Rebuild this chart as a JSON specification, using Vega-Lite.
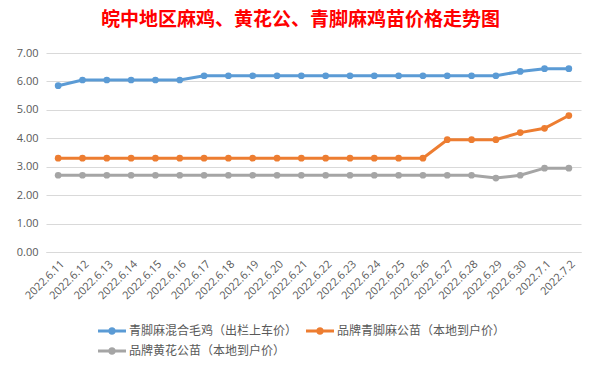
{
  "$schema": "https://vega.github.io/schema/vega-lite/v6.json",
  "width": 535,
  "height": 199,
  "autosize": "none",
  "padding": {"left": 46, "top": 53, "right": 18, "bottom": 117},
  "background": "white",
  "title": {
    "text": "皖中地区麻鸡、黄花公、青脚麻鸡苗价格走势图",
    "color": "#FF0000",
    "font": "Noto Sans CJK SC",
    "fontSize": 19,
    "fontWeight": "bold",
    "anchor": "middle",
    "dx": -13,
    "offset": 17
  },
  "config": {
    "view": {"stroke": null},
    "axis": {"labelFont": "Open Sans", "labelColor": "#595959", "labelFontSize": 11}
  },
  "data": {
    "values": [
      {"date": "2022.6.11", "series": "青脚麻混合毛鸡（出栏上车价）", "price": 5.85},
      {"date": "2022.6.12", "series": "青脚麻混合毛鸡（出栏上车价）", "price": 6.05},
      {"date": "2022.6.13", "series": "青脚麻混合毛鸡（出栏上车价）", "price": 6.05},
      {"date": "2022.6.14", "series": "青脚麻混合毛鸡（出栏上车价）", "price": 6.05},
      {"date": "2022.6.15", "series": "青脚麻混合毛鸡（出栏上车价）", "price": 6.05},
      {"date": "2022.6.16", "series": "青脚麻混合毛鸡（出栏上车价）", "price": 6.05},
      {"date": "2022.6.17", "series": "青脚麻混合毛鸡（出栏上车价）", "price": 6.2},
      {"date": "2022.6.18", "series": "青脚麻混合毛鸡（出栏上车价）", "price": 6.2},
      {"date": "2022.6.19", "series": "青脚麻混合毛鸡（出栏上车价）", "price": 6.2},
      {"date": "2022.6.20", "series": "青脚麻混合毛鸡（出栏上车价）", "price": 6.2},
      {"date": "2022.6.21", "series": "青脚麻混合毛鸡（出栏上车价）", "price": 6.2},
      {"date": "2022.6.22", "series": "青脚麻混合毛鸡（出栏上车价）", "price": 6.2},
      {"date": "2022.6.23", "series": "青脚麻混合毛鸡（出栏上车价）", "price": 6.2},
      {"date": "2022.6.24", "series": "青脚麻混合毛鸡（出栏上车价）", "price": 6.2},
      {"date": "2022.6.25", "series": "青脚麻混合毛鸡（出栏上车价）", "price": 6.2},
      {"date": "2022.6.26", "series": "青脚麻混合毛鸡（出栏上车价）", "price": 6.2},
      {"date": "2022.6.27", "series": "青脚麻混合毛鸡（出栏上车价）", "price": 6.2},
      {"date": "2022.6.28", "series": "青脚麻混合毛鸡（出栏上车价）", "price": 6.2},
      {"date": "2022.6.29", "series": "青脚麻混合毛鸡（出栏上车价）", "price": 6.2},
      {"date": "2022.6.30", "series": "青脚麻混合毛鸡（出栏上车价）", "price": 6.35},
      {"date": "2022.7.1", "series": "青脚麻混合毛鸡（出栏上车价）", "price": 6.45},
      {"date": "2022.7.2", "series": "青脚麻混合毛鸡（出栏上车价）", "price": 6.45},
      {"date": "2022.6.11", "series": "品牌青脚麻公苗（本地到户价）", "price": 3.3},
      {"date": "2022.6.12", "series": "品牌青脚麻公苗（本地到户价）", "price": 3.3},
      {"date": "2022.6.13", "series": "品牌青脚麻公苗（本地到户价）", "price": 3.3},
      {"date": "2022.6.14", "series": "品牌青脚麻公苗（本地到户价）", "price": 3.3},
      {"date": "2022.6.15", "series": "品牌青脚麻公苗（本地到户价）", "price": 3.3},
      {"date": "2022.6.16", "series": "品牌青脚麻公苗（本地到户价）", "price": 3.3},
      {"date": "2022.6.17", "series": "品牌青脚麻公苗（本地到户价）", "price": 3.3},
      {"date": "2022.6.18", "series": "品牌青脚麻公苗（本地到户价）", "price": 3.3},
      {"date": "2022.6.19", "series": "品牌青脚麻公苗（本地到户价）", "price": 3.3},
      {"date": "2022.6.20", "series": "品牌青脚麻公苗（本地到户价）", "price": 3.3},
      {"date": "2022.6.21", "series": "品牌青脚麻公苗（本地到户价）", "price": 3.3},
      {"date": "2022.6.22", "series": "品牌青脚麻公苗（本地到户价）", "price": 3.3},
      {"date": "2022.6.23", "series": "品牌青脚麻公苗（本地到户价）", "price": 3.3},
      {"date": "2022.6.24", "series": "品牌青脚麻公苗（本地到户价）", "price": 3.3},
      {"date": "2022.6.25", "series": "品牌青脚麻公苗（本地到户价）", "price": 3.3},
      {"date": "2022.6.26", "series": "品牌青脚麻公苗（本地到户价）", "price": 3.3},
      {"date": "2022.6.27", "series": "品牌青脚麻公苗（本地到户价）", "price": 3.95},
      {"date": "2022.6.28", "series": "品牌青脚麻公苗（本地到户价）", "price": 3.95},
      {"date": "2022.6.29", "series": "品牌青脚麻公苗（本地到户价）", "price": 3.95},
      {"date": "2022.6.30", "series": "品牌青脚麻公苗（本地到户价）", "price": 4.2},
      {"date": "2022.7.1", "series": "品牌青脚麻公苗（本地到户价）", "price": 4.35},
      {"date": "2022.7.2", "series": "品牌青脚麻公苗（本地到户价）", "price": 4.8},
      {"date": "2022.6.11", "series": "品牌黄花公苗（本地到户价）", "price": 2.7},
      {"date": "2022.6.12", "series": "品牌黄花公苗（本地到户价）", "price": 2.7},
      {"date": "2022.6.13", "series": "品牌黄花公苗（本地到户价）", "price": 2.7},
      {"date": "2022.6.14", "series": "品牌黄花公苗（本地到户价）", "price": 2.7},
      {"date": "2022.6.15", "series": "品牌黄花公苗（本地到户价）", "price": 2.7},
      {"date": "2022.6.16", "series": "品牌黄花公苗（本地到户价）", "price": 2.7},
      {"date": "2022.6.17", "series": "品牌黄花公苗（本地到户价）", "price": 2.7},
      {"date": "2022.6.18", "series": "品牌黄花公苗（本地到户价）", "price": 2.7},
      {"date": "2022.6.19", "series": "品牌黄花公苗（本地到户价）", "price": 2.7},
      {"date": "2022.6.20", "series": "品牌黄花公苗（本地到户价）", "price": 2.7},
      {"date": "2022.6.21", "series": "品牌黄花公苗（本地到户价）", "price": 2.7},
      {"date": "2022.6.22", "series": "品牌黄花公苗（本地到户价）", "price": 2.7},
      {"date": "2022.6.23", "series": "品牌黄花公苗（本地到户价）", "price": 2.7},
      {"date": "2022.6.24", "series": "品牌黄花公苗（本地到户价）", "price": 2.7},
      {"date": "2022.6.25", "series": "品牌黄花公苗（本地到户价）", "price": 2.7},
      {"date": "2022.6.26", "series": "品牌黄花公苗（本地到户价）", "price": 2.7},
      {"date": "2022.6.27", "series": "品牌黄花公苗（本地到户价）", "price": 2.7},
      {"date": "2022.6.28", "series": "品牌黄花公苗（本地到户价）", "price": 2.7},
      {"date": "2022.6.29", "series": "品牌黄花公苗（本地到户价）", "price": 2.6},
      {"date": "2022.6.30", "series": "品牌黄花公苗（本地到户价）", "price": 2.7},
      {"date": "2022.7.1", "series": "品牌黄花公苗（本地到户价）", "price": 2.95},
      {"date": "2022.7.2", "series": "品牌黄花公苗（本地到户价）", "price": 2.95}
    ]
  },
  "encoding": {
    "x": {
      "field": "date",
      "type": "ordinal",
      "sort": null,
      "scale": {"type": "point", "padding": 0.5},
      "axis": {
        "title": null,
        "labelAngle": -45,
        "labelAlign": "right",
        "labelBaseline": "top",
        "labelPadding": 6,
        "ticks": false,
        "domainColor": "#D9D9D9",
        "domainWidth": 1,
        "grid": false
      }
    },
    "y": {
      "field": "price",
      "type": "quantitative",
      "scale": {"domain": [0, 7], "nice": false},
      "axis": {
        "title": null,
        "values": [0, 1, 2, 3, 4, 5, 6, 7],
        "format": ".2f",
        "domain": false,
        "ticks": false,
        "gridColor": "#D9D9D9",
        "gridWidth": 1,
        "labelPadding": 8
      }
    },
    "color": {
      "field": "series",
      "type": "nominal",
      "sort": null,
      "scale": {
        "domain": ["青脚麻混合毛鸡（出栏上车价）", "品牌青脚麻公苗（本地到户价）", "品牌黄花公苗（本地到户价）"],
        "range": ["#5B9BD5", "#ED7D31", "#A5A5A5"]
      },
      "legend": {
        "title": null,
        "orient": "none",
        "legendX": 52,
        "legendY": 264,
        "direction": "horizontal",
        "columns": 2,
        "columnPadding": 8,
        "rowPadding": -8,
        "symbolType": "M-1,-0.11H1V0.11H-1Z M0.27,0A0.27,0.27 0 1 1 -0.27,0A0.27,0.27 0 1 1 0.27,0Z",
        "symbolSize": 784,
        "symbolStrokeWidth": 0,
        "labelFont": "Noto Sans CJK SC",
        "labelFontSize": 12,
        "labelColor": "#595959",
        "labelOffset": 3,
        "labelLimit": 0,
        "encode": {
          "symbols": {
            "update": {
              "fill": {"scale": "color", "field": "value"},
              "fillOpacity": {"value": 1},
              "strokeWidth": {"value": 0}
            }
          }
        }
      }
    }
  },
  "layer": [
    {"mark": {"type": "line", "strokeWidth": 3}},
    {"mark": {"type": "point", "filled": true, "size": 45, "opacity": 1}}
  ]
}
